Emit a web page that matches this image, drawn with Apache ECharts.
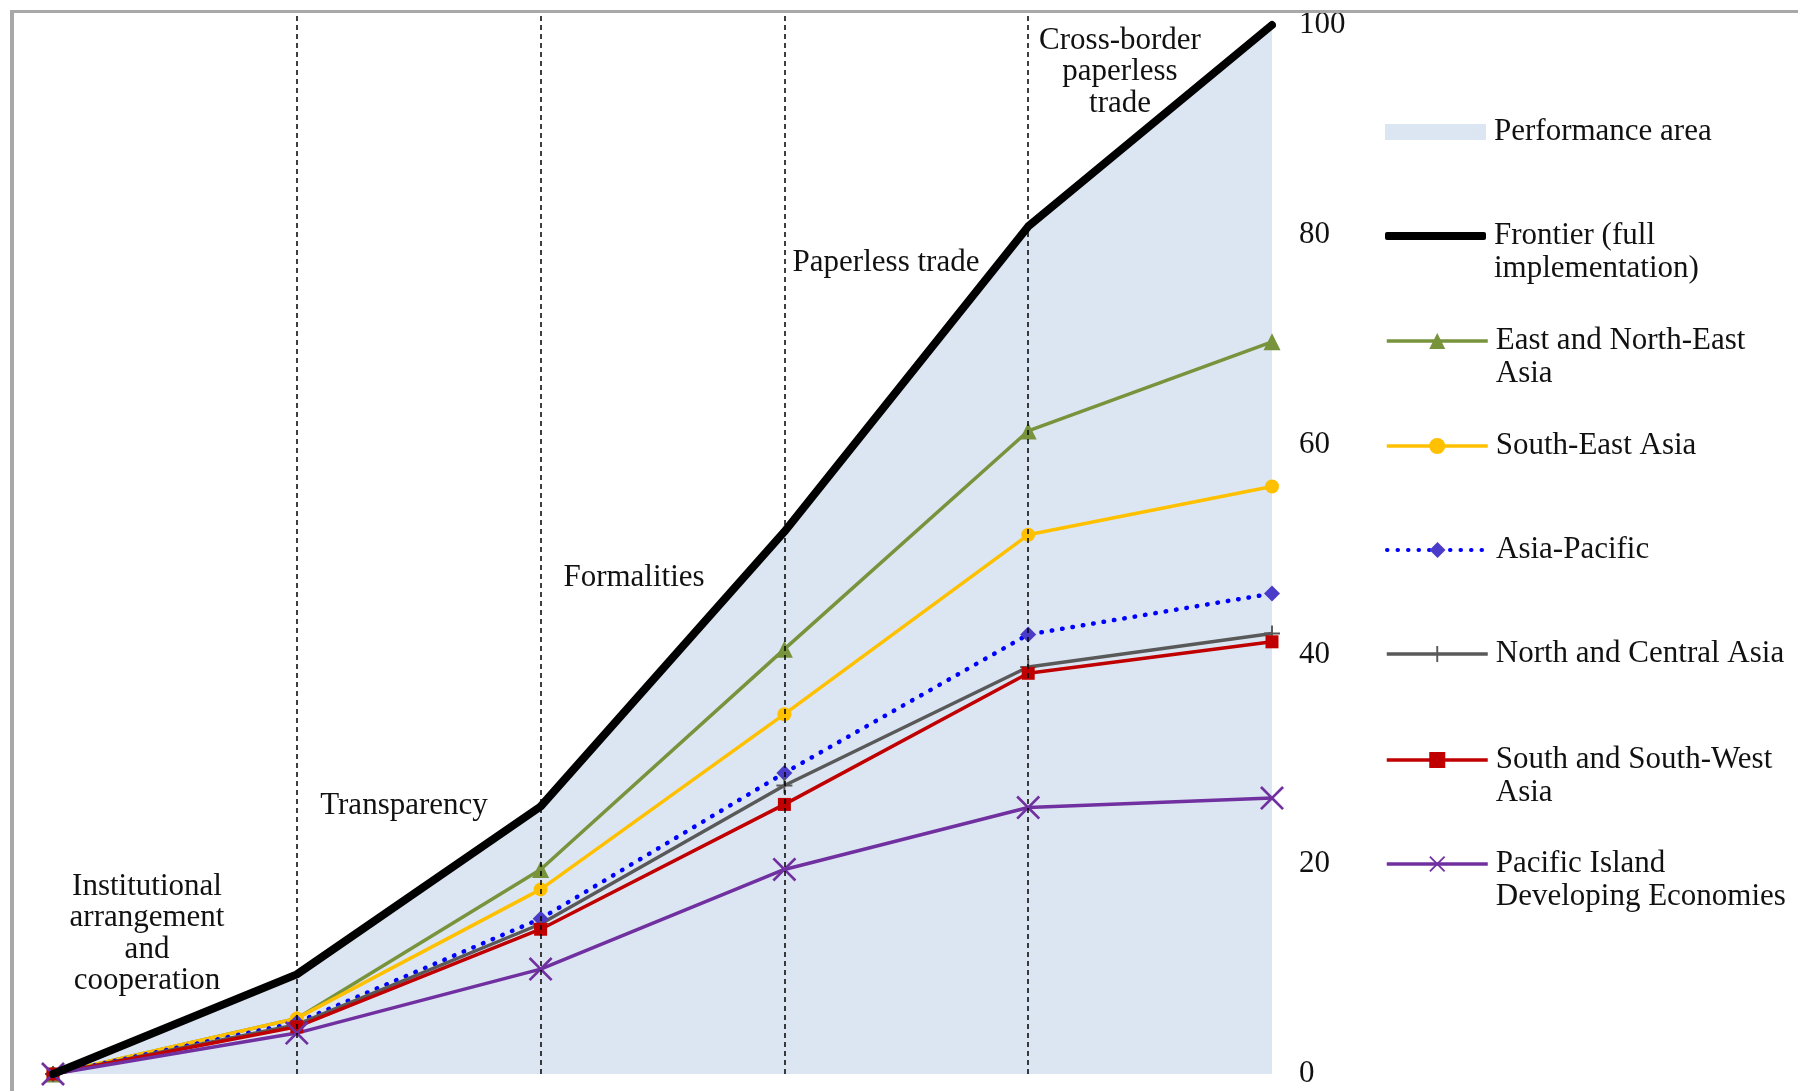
<!DOCTYPE html>
<html>
<head>
<meta charset="utf-8">
<script src="https://cdn.jsdelivr.net/npm/echarts@6/dist/echarts.min.js"></script>
<style>
html,body{margin:0;padding:0;background:#fff;}
#chart{width:1798px;height:1091px;}
</style>
</head>
<body>
<div id="chart"></div>
<script>
// ---- data ----
var points = ['0', '1', '2', '3', '4', '5'];
var stageNames = ['Institutional\narrangement\nand\ncooperation', 'Transparency', 'Formalities', 'Paperless trade', 'Cross-border\npaperless\ntrade'];
var yTicks = [0, 20, 40, 60, 80, 100];

var frontier = [0, 9.5, 25.5, 51.7, 80.8, 100];
var eastNorthEastAsia = [0, 5.3, 19.5, 40.5, 61.3, 69.8];
var southEastAsia = [0, 5.3, 17.6, 34.3, 51.4, 56.0];
var asiaPacific = [0, 4.9, 14.8, 28.7, 41.9, 45.8];
var northCentralAsia = [0, 4.7, 14.3, 27.5, 38.8, 42.0];
var southSouthWestAsia = [0, 4.5, 13.8, 25.7, 38.2, 41.2];
var pacificIsland = [0, 3.9, 10.0, 19.5, 25.4, 26.3];

var seriesNames = ['Performance area', 'Frontier (full implementation)', 'East and North-East Asia', 'South-East Asia', 'Asia-Pacific', 'North and Central Asia', 'South and South-West Asia', 'Pacific Island Developing Economies'];
var legendLines = [
  ['Performance area'],
  ['Frontier (full', 'implementation)'],
  ['East and North-East', 'Asia'],
  ['South-East Asia'],
  ['Asia-Pacific'],
  ['North and Central Asia'],
  ['South and South-West', 'Asia'],
  ['Pacific Island', 'Developing Economies']
];

// ---- styling ----
var FONT = 'Liberation Serif';
var FS = 31;
var LH = 33;
var plusPath = 'path://M4.4,0 H5.6 V4.4 H10 V5.6 H5.6 V10 H4.4 V5.6 H0 V4.4 H4.4 Z';
var xPath = 'path://M0,0.8 L0.8,0 L5,4.2 L9.2,0 L10,0.8 L5.8,5 L10,9.2 L9.2,10 L5,5.8 L0.8,10 L0,9.2 L4.2,5 Z';

var chart = echarts.init(document.getElementById('chart'));

var legendCenters = [132, 236, 341, 446, 550, 654, 760, 864];
var legendLineWidth = [0, 8, 3.5, 3.5, 4, 3.5, 3.5, 3.5];
var legends = seriesNames.map(function (name, i) {
  var lines = legendLines[i];
  var multi = lines.length > 1;
  var item = { name: name };
  var h = 20;
  if (i === 0) { item.icon = 'rect'; item.itemStyle = { color: '#DCE6F2' }; h = 16; }
  if (i === 1) { item.icon = 'roundRect'; item.itemStyle = { color: '#000000' }; h = 8; }
  return {
    data: [item],
    orient: 'vertical',
    left: 1385,
    top: legendCenters[i] - (multi ? 1.5 * LH : 0.5 * LH),
    padding: 0,
    itemWidth: 101,
    itemHeight: h,
    itemGap: 0,
    selectedMode: false,
    lineStyle: { width: legendLineWidth[i] },
    formatter: function () { return multi ? '\n' + lines.join('\n') : lines[0]; },
    textStyle: { fontFamily: FONT, fontSize: FS, lineHeight: LH, color: '#111', padding: [0, 0, 0, 3] }
  };
});

function lineSeries(name, data, color, symbol, size, extra) {
  var s = {
    name: name,
    type: 'line',
    data: data,
    symbol: symbol,
    symbolSize: size,
    showAllSymbol: true,
    lineStyle: { color: color, width: 3.5 },
    itemStyle: { color: color },
    emphasis: { disabled: true },
    z: 3
  };
  if (extra) { for (var k in extra) s[k] = extra[k]; }
  return s;
}

var stagePos = [[147, 871], [404, 790], [634, 562], [886, 247], [1120, 25]];

chart.setOption({
  animation: false,
  backgroundColor: '#ffffff',
  legend: legends,
  grid: { left: 53, right: 526, top: 12, bottom: 17 },
  xAxis: {
    type: 'category',
    data: points,
    boundaryGap: false,
    axisLine: { show: false },
    axisTick: { show: false },
    axisLabel: { show: false },
    splitLine: { show: false }
  },
  yAxis: {
    type: 'value',
    position: 'right',
    min: yTicks[0],
    max: 101.24,
    interval: 20,
    axisLine: { show: false },
    axisTick: { show: false },
    splitLine: { show: false },
    axisLabel: {
      showMaxLabel: false,
      margin: 27,
      align: 'left',
      fontFamily: FONT,
      fontSize: FS,
      color: '#111',
      formatter: function (v) { return yTicks.indexOf(v) >= 0 ? String(v) : ''; }
    }
  },
  graphic: [
    { type: 'rect', shape: { x: 10, y: 10, width: 1788, height: 3 }, style: { fill: '#A8A8A8' }, silent: true, z: 100 },
    { type: 'rect', shape: { x: 10, y: 10, width: 4, height: 1081 }, style: { fill: '#A8A8A8' }, silent: true, z: 100 }
  ].concat(stageNames.map(function (t, i) {
    return {
      type: 'text',
      x: stagePos[i][0],
      y: stagePos[i][1],
      silent: true,
      z: 50,
      style: { text: t, fontFamily: FONT, fontSize: FS, lineHeight: 31.5, fill: '#111', align: 'center', verticalAlign: 'top' }
    };
  })),
  series: [
    {
      name: seriesNames[0],
      type: 'line',
      data: frontier,
      symbol: 'none',
      lineStyle: { width: 0, opacity: 0 },
      itemStyle: { color: '#DCE6F2' },
      areaStyle: { color: '#DCE6F2', opacity: 1 },
      z: 1,
      emphasis: { disabled: true },
      markLine: {
        silent: true,
        symbol: 'none',
        label: { show: false },
        lineStyle: { color: '#000', width: 1.5, type: [5, 4] },
        emphasis: { disabled: true },
        data: [{ xAxis: 1 }, { xAxis: 2 }, { xAxis: 3 }, { xAxis: 4 }]
      }
    },
    lineSeries(seriesNames[1], frontier, '#000000', 'none', 0, {
      lineStyle: { color: '#000000', width: 8, cap: 'round', join: 'round' }, z: 4
    }),
    lineSeries(seriesNames[2], eastNorthEastAsia, '#77933C', 'triangle', 17),
    lineSeries(seriesNames[3], southEastAsia, '#FFC000', 'circle', 14),
    lineSeries(seriesNames[4], asiaPacific, '#0000FF', 'diamond', 16, {
      lineStyle: { color: '#0000FF', width: 4.5, type: [0.5, 10], cap: 'round' },
      itemStyle: { color: '#4A3CC8' }
    }),
    lineSeries(seriesNames[5], northCentralAsia, '#595959', plusPath, 16),
    lineSeries(seriesNames[6], southSouthWestAsia, '#C00000', 'rect', 13),
    lineSeries(seriesNames[7], pacificIsland, '#7030A0', xPath, 24)
  ]
});
</script>
</body>
</html>
